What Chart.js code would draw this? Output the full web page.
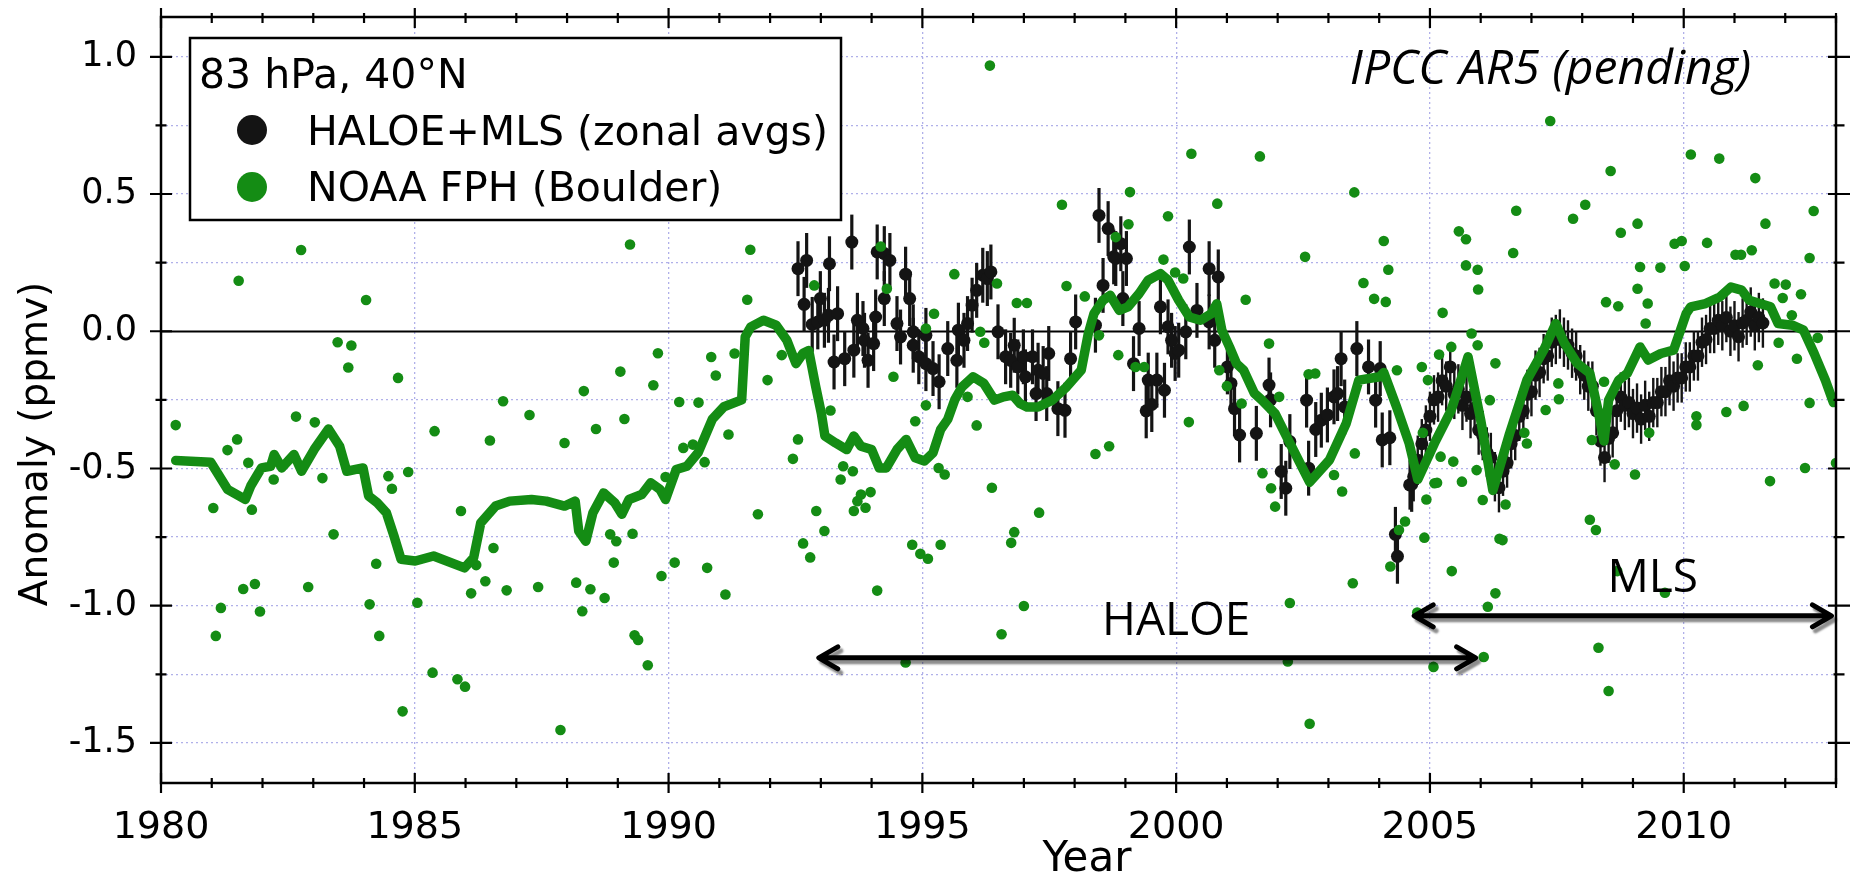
<!DOCTYPE html>
<html>
<head>
<meta charset="utf-8">
<script src="https://cdn.jsdelivr.net/npm/chart.js@4.4.1/dist/chart.umd.min.js"></script>
<style>
  html, body { margin: 0; padding: 0; background: #ffffff; }
  canvas { display: block; }
</style>
</head>
<body>
<canvas id="wv" width="1858" height="874"></canvas>
<script>
// ---- NOAA frost-point hygrometer soundings over Boulder (single profiles) ----
const fphYear = [
  1980.29,1981.03,1981.08,1981.18,1981.31,1981.50,1981.53,1981.62,1981.72,1981.79,1981.85,1981.95,
  1982.22,1982.66,1982.76,1982.90,1983.03,1983.18,1983.40,1983.48,1983.69,1983.75,1984.04,1984.11,
  1984.24,1984.30,1984.48,1984.55,1984.67,1984.76,1984.87,1985.05,1985.35,1985.39,1985.84,1985.91,
  1985.99,1986.11,1986.21,1986.39,1986.48,1986.55,1986.74,1986.81,1987.26,1987.43,1987.87,1987.95,
  1988.18,1988.30,1988.33,1988.46,1988.57,1988.74,1988.85,1988.92,1988.97,1989.05,1989.13,1989.24,
  1989.29,1989.33,1989.40,1989.59,1989.70,1989.79,1989.86,1989.94,1990.12,1990.21,1990.29,1990.48,
  1990.59,1990.71,1990.76,1990.84,1990.93,
  1991.12,1991.18,1991.30,1991.55,1991.61,1991.76,1991.95,1992.23,1992.45,1992.55,1992.65,1992.79,
  1992.87,1992.91,1993.07,1993.19,1993.39,1993.44,1993.63,1993.65,1993.72,1993.79,1993.88,1993.98,
  1994.11,1994.18,1994.30,1994.43,1994.67,1994.80,1994.86,1994.96,1995.07,1995.07,1995.11,1995.23,
  1995.32,1995.36,1995.44,1995.63,1995.89,1996.07,1996.14,1996.22,1996.33,1996.37,1996.47,1996.56,
  1996.75,1996.81,1996.86,1997.00,1997.06,1997.30,1997.75,1997.84,1998.20,1998.41,1998.48,1998.68,
  1998.81,1998.86,1999.06,1999.09,1999.20,1999.37,1999.75,1999.84,1999.98,2000.14,2000.25,2000.30,
  2000.81,2000.85,2001.00,2001.29,2001.37,2001.65,2001.70,2001.83,2001.87,2001.95,2002.03,2002.20,
  2002.24,2002.54,2002.61,2002.63,2002.74,2003.11,2003.27,2003.48,2003.51,2003.52,2003.69,2003.90,
  2004.09,2004.13,2004.18,2004.22,2004.35,2004.39,2004.51,2004.75,2004.84,2004.86,2004.89,2004.93,
  2004.96,2005.07,2005.09,2005.14,2005.18,2005.21,2005.25,2005.42,2005.43,2005.46,2005.57,2005.63,
  2005.71,2005.71,2005.82,2005.92,2005.94,2005.94,2005.95,2006.04,2006.06,2006.14,2006.18,2006.29,
  2006.29,2006.37,2006.43,2006.49,2006.64,2006.70,2006.86,2006.91,2007.28,2007.37,2007.53,2007.54,
  2007.82,2008.06,2008.15,2008.19,2008.27,2008.32,2008.43,2008.47,2008.52,2008.56,2008.64,2008.69,
  2008.71,2008.76,2009.04,2009.09,2009.09,2009.14,2009.25,2009.29,2009.32,2009.54,2009.63,2009.82,
  2009.96,2010.02,2010.14,2010.25,2010.25,2010.46,2010.70,2010.84,2011.02,2011.13,2011.18,2011.34,
  2011.41,2011.46,2011.61,2011.70,2011.79,2011.87,2011.95,2012.01,2012.13,2012.23,2012.31,2012.39,
  2012.48,2012.48,2012.56,2012.64,2013.00
];
const fphAnom = [
  -0.342,-0.644,-1.110,-1.008,-0.433,-0.394,0.184,-0.939,-0.479,-0.650,-0.921,-1.021,
  -0.540,-0.311,0.296,-0.932,-0.332,-0.535,-0.740,-0.040,-0.132,-0.052,0.114,-0.995,
  -0.847,-1.110,-0.528,-0.574,-0.170,-1.385,-0.513,-0.989,-1.244,-0.364,-1.268,-0.655,
  -1.295,-0.955,-0.852,-0.911,-0.398,-0.790,-0.255,-0.944,-0.305,-0.932,-1.453,-0.407,
  -0.916,-1.020,-0.218,-0.940,-0.356,-0.972,-0.740,-0.843,-0.765,-0.147,-0.320,0.316,
  -0.738,-1.108,-1.125,-1.217,-0.197,-0.080,-0.892,-0.531,-0.843,-0.258,-0.425,-0.413,
  -0.260,-0.477,-0.862,-0.094,-0.161,
  -0.959,-0.376,-0.081,0.115,0.297,-0.667,-0.178,-0.087,-0.465,-0.394,-0.773,-0.824,
  0.167,-0.655,-0.728,-0.289,-0.540,-0.492,-0.510,-0.655,-0.619,-0.595,-0.643,-0.586,
  -0.945,0.309,0.155,-0.166,-1.207,-0.778,-0.328,-0.811,0.010,-0.270,-0.829,0.064,
  -0.498,-0.778,-0.522,0.208,-0.239,-0.343,-0.002,-0.042,0.968,-0.570,0.174,-1.104,
  -0.771,-0.732,0.103,-1.001,0.103,-0.661,0.461,0.165,0.127,-0.447,-0.015,-0.419,
  0.343,-0.087,0.390,0.507,-0.130,-0.130,0.261,0.419,0.214,0.192,-0.331,0.647,
  0.465,-0.142,-0.200,-0.263,0.115,0.637,-0.517,-0.045,-0.572,-0.639,-0.239,-1.203,
  -0.990,0.271,-0.157,-1.430,-0.154,-0.524,-0.584,-0.918,0.506,-0.445,0.176,0.118,
  0.329,0.107,0.224,-0.857,-0.142,-0.724,-0.693,-1.025,-0.130,-0.370,-0.752,-0.613,
  -0.178,-1.223,-0.554,-0.552,-0.085,-0.457,0.067,-0.057,-0.874,-0.475,0.364,-0.548,
  0.335,0.240,-0.008,-0.506,0.224,-0.051,0.152,-0.615,-1.187,-1.004,-0.251,-0.955,
  -0.117,-0.756,-0.761,-0.631,0.285,0.439,-0.370,-0.409,-0.287,0.766,-0.190,-0.248,
  0.410,0.461,-0.687,-0.396,-0.724,-1.153,-0.184,0.106,-1.311,0.584,-0.485,-0.874,
  0.091,0.359,-0.522,0.392,0.155,0.234,0.028,0.101,-0.370,0.232,-0.953,0.319,
  0.329,0.238,0.644,-0.310,-0.342,0.322,0.629,-0.294,0.279,0.279,-0.272,0.295,
  0.558,-0.124,0.392,-0.546,0.174,-0.042,0.121,0.170,0.058,-0.100,0.135,-0.498,
  0.267,-0.261,0.438,-0.024,-0.480
];

// ---- smoothed NOAA FPH record ----
const fphFitYear = [
  1980.29,1980.98,1981.31,1981.66,1981.77,1981.98,1982.16,1982.23,1982.38,1982.62,1982.77,1983.02,
  1983.30,1983.52,1983.66,1983.98,1984.09,1984.26,1984.44,1984.59,1984.73,1985.01,1985.37,1985.98,
  1986.16,1986.30,1986.59,1986.87,1987.30,1987.59,1987.95,1988.16,1988.23,1988.37,1988.51,1988.72,
  1988.94,1989.08,1989.22,1989.47,1989.65,1989.83,1989.94,1990.15,1990.36,1990.58,1990.72,1990.86,
  1991.09,1991.44,1991.51,1991.62,1991.87,1992.12,1992.33,1992.51,1992.65,1992.76,1992.90,1993.01,
  1993.08,1993.29,1993.51,1993.65,1993.79,1994.00,1994.15,1994.29,1994.50,1994.68,1994.86,1995.04,
  1995.21,1995.36,1995.50,1995.64,1995.78,1996.00,1996.21,1996.42,1996.60,1996.78,1996.92,1997.06,
  1997.28,1997.56,1997.84,1998.13,1998.27,1998.38,1998.56,1998.70,1998.88,1999.05,1999.27,1999.45,
  1999.69,1999.84,2000.05,2000.26,2000.48,2000.69,2000.80,2000.90,2001.05,2001.19,2001.33,2001.54,
  2001.69,2001.95,2002.24,2002.63,2003.02,2003.35,2003.60,2004.01,2004.09,2004.34,2004.59,2004.76,
  2005.09,2005.42,2005.67,2005.75,2006.00,2006.24,2006.57,2006.91,2007.24,2007.48,2007.65,2007.90,
  2008.15,2008.31,2008.43,2008.52,2008.72,2008.89,2009.14,2009.30,2009.55,2009.80,2010.05,2010.14,
  2010.43,2010.71,2010.93,2011.14,2011.29,2011.50,2011.71,2011.86,2012.14,2012.36,2012.57,2012.79,
  2012.95
];
const fphFitAnom = [
  -0.471,-0.477,-0.576,-0.613,-0.563,-0.498,-0.492,-0.449,-0.498,-0.449,-0.510,-0.430,
  -0.356,-0.419,-0.510,-0.498,-0.600,-0.625,-0.661,-0.746,-0.831,-0.837,-0.819,-0.862,
  -0.825,-0.698,-0.637,-0.619,-0.613,-0.619,-0.637,-0.619,-0.728,-0.765,-0.661,-0.589,
  -0.625,-0.667,-0.613,-0.595,-0.552,-0.576,-0.613,-0.504,-0.492,-0.443,-0.382,-0.321,
  -0.275,-0.250,-0.020,0.016,0.040,0.022,-0.033,-0.118,-0.080,-0.070,-0.203,-0.300,
  -0.382,-0.407,-0.431,-0.382,-0.419,-0.431,-0.498,-0.498,-0.431,-0.394,-0.461,-0.473,
  -0.443,-0.358,-0.321,-0.249,-0.203,-0.166,-0.190,-0.251,-0.239,-0.233,-0.263,-0.276,
  -0.276,-0.251,-0.203,-0.142,-0.008,0.064,0.113,0.131,0.076,0.089,0.137,0.186,
  0.210,0.186,0.113,0.052,0.040,0.064,0.100,0.004,-0.057,-0.118,-0.142,-0.226,
  -0.251,-0.300,-0.408,-0.550,-0.469,-0.336,-0.178,-0.166,-0.150,-0.275,-0.408,-0.540,
  -0.408,-0.287,-0.142,-0.093,-0.324,-0.580,-0.372,-0.178,-0.069,0.028,-0.044,-0.117,
  -0.153,-0.287,-0.400,-0.251,-0.178,-0.153,-0.057,-0.105,-0.081,-0.069,0.065,0.089,
  0.101,0.125,0.161,0.150,0.113,0.101,0.089,0.028,0.022,0.004,-0.081,-0.178,
  -0.260
];

// ---- HALOE zonal averages, 40N ----
const haloeYear = [
  1992.55,1992.67,1992.72,1992.83,1992.94,1992.99,1993.07,1993.15,1993.17,1993.26,1993.33,1993.47,
  1993.61,1993.65,1993.72,1993.83,1993.86,1993.93,1994.04,1994.08,1994.11,1994.25,1994.25,1994.36,
  1994.50,1994.57,1994.67,1994.75,1994.82,1994.82,1994.93,1995.07,1995.07,1995.21,1995.33,1995.50,
  1995.68,1995.71,1995.82,1995.89,1995.98,1996.07,1996.19,1996.28,1996.35,1996.49,1996.64,1996.74,
  1996.81,1996.88,1996.99,1997.03,1997.17,1997.24,1997.28,1997.38,1997.45,1997.49,1997.67,1997.81,
  1997.92,1998.02,1998.41,1998.48,1998.56,1998.66,1998.77,1998.81,1998.91,1998.95,1999.02,1999.16,
  1999.27,1999.41,1999.45,1999.52,1999.62,1999.69,1999.77,1999.84,1999.91,1999.98,2000.05,2000.19,
  2000.26,2000.41,2000.65,2000.65,2000.76,2000.83,2001.01,2001.08,2001.15,2001.25,2001.58,2001.83,
  2001.86,2002.07,2002.16,2002.24,2002.57,2002.61,2002.75,2002.86,2002.98,2003.11,2003.18,2003.25,
  2003.32,2003.56,2003.79,2003.93,2004.02,2004.06,2004.21,2004.32,2004.36,2004.64
];
const haloeAnom = [
  0.228,0.098,0.258,0.025,0.034,0.119,0.040,0.058,0.246,-0.112,0.064,-0.100,
  0.325,-0.069,0.040,0.010,-0.033,-0.106,-0.045,0.052,0.289,0.283,0.119,0.258,
  0.028,-0.021,0.208,0.119,-0.002,-0.051,-0.093,-0.015,-0.118,-0.136,-0.184,-0.063,
  -0.106,0.004,-0.033,0.028,0.095,0.149,0.204,0.192,0.216,-0.002,-0.093,-0.106,
  -0.051,-0.130,-0.093,-0.166,-0.093,-0.227,-0.142,-0.154,-0.227,-0.081,-0.282,-0.288,
  -0.100,0.034,0.022,0.422,0.167,0.374,0.271,0.265,0.319,0.119,0.265,-0.118,
  0.010,-0.290,-0.178,-0.267,-0.178,0.089,-0.215,0.016,-0.033,-0.081,-0.069,-0.002,
  0.307,0.076,0.228,0.034,-0.033,0.198,-0.130,-0.190,-0.282,-0.378,-0.372,-0.196,
  -0.250,-0.511,-0.572,-0.402,-0.251,-0.499,-0.358,-0.324,-0.305,-0.239,-0.227,-0.100,
  -0.276,-0.063,-0.130,-0.251,-0.136,-0.396,-0.388,-0.740,-0.820,-0.558
];

// ---- MLS zonal averages, 40N ----
const mlsYear = [
  2004.60,2004.68,2004.76,2004.84,2004.92,2005.00,2005.08,2005.16,2005.24,2005.32,
  2005.40,2005.48,2005.56,2005.64,2005.72,2005.80,2005.88,2005.96,2006.04,2006.12,
  2006.20,2006.28,2006.36,2006.44,2006.52,2006.60,2006.68,2006.76,2006.84,2006.92,
  2007.00,2007.08,2007.16,2007.24,2007.32,2007.40,2007.48,2007.56,2007.64,2007.72,
  2007.80,2007.88,2007.96,2008.04,2008.12,2008.20,2008.28,2008.36,2008.44,2008.52,
  2008.60,2008.68,2008.76,2008.84,2008.92,2009.00,2009.08,2009.16,2009.24,2009.32,
  2009.40,2009.48,2009.56,2009.64,2009.72,2009.80,2009.88,2009.96,2010.04,2010.12,
  2010.20,2010.28,2010.36,2010.44,2010.52,2010.60,2010.68,2010.76,2010.84,2010.92,
  2011.00,2011.08,2011.16,2011.24,2011.32,2011.40,2011.48,2011.56
];
const mlsAnom = [
  -0.56,-0.53,-0.47,-0.41,-0.36,-0.31,-0.25,-0.24,-0.18,-0.20,
  -0.13,-0.23,-0.21,-0.27,-0.24,-0.30,-0.28,-0.36,-0.38,-0.44,
  -0.46,-0.53,-0.57,-0.51,-0.48,-0.41,-0.38,-0.31,-0.29,-0.23,
  -0.22,-0.16,-0.15,-0.10,-0.09,-0.04,-0.03,-0.01,-0.04,-0.05,
  -0.08,-0.09,-0.14,-0.16,-0.20,-0.20,-0.29,-0.40,-0.46,-0.39,
  -0.37,-0.29,-0.24,-0.27,-0.26,-0.30,-0.28,-0.32,-0.27,-0.31,
  -0.26,-0.26,-0.22,-0.22,-0.18,-0.20,-0.17,-0.17,-0.13,-0.13,
  -0.09,-0.09,-0.04,-0.03,0.01,0.01,0.04,0.02,0.05,0.00,
  0.02,-0.02,0.03,0.04,0.07,0.02,0.05,0.03
];

// half-width of the error bar on each zonal average (ppmv)
const haloeErr = 0.10;
const mlsErr = 0.09;

// axis range, ticks and labels
const yearRange = [1980, 2013];
const anomRange = [-1.646, 1.145];
const yearLabels = [1980, 1985, 1990, 1995, 2000, 2005, 2010];
const anomLabels = [-1.5, -1.0, -0.5, 0.0, 0.5, 1.0];

// instrument records shown as arrows beneath the data
const haloeSpan = [1992.94, 2005.92];
const mlsSpan = [2004.67, 2012.93];

const GREEN = '#148c14';
const BLACK = '#141414';
const GRID = 'rgba(150,150,225,0.75)';
const SANS = '"DejaVu Sans", Verdana, sans-serif';
const CAPTION = '"Open Sans", "Noto Sans", sans-serif';

const pairs = (xs, ys) => xs.map((x, i) => ({ x: x, y: ys[i] }));
const near = (v, list) => list.some(t => Math.abs(t - v) < 1e-6);

// Error bars, zero line, frame, tick marks, legend and notes
const decorations = {
  id: 'decorations',
  beforeDatasetsDraw(chart) {
    const { ctx, chartArea: a, scales: { x, y } } = chart;
    ctx.save();
    // zero line
    ctx.strokeStyle = '#000';
    ctx.lineWidth = 2;
    const y0 = Math.round(y.getPixelForValue(0)) + 0.5;
    ctx.beginPath(); ctx.moveTo(a.left, y0); ctx.lineTo(a.right, y0); ctx.stroke();
    // vertical error bars behind the dots
    ctx.beginPath(); ctx.rect(a.left, a.top, a.right - a.left, a.bottom - a.top); ctx.clip();
    ctx.strokeStyle = BLACK;
    chart.data.datasets.forEach(ds => {
      if (ds.errorBar == null) return;
      ctx.lineWidth = ds.errorWidth;
      ds.data.forEach(p => {
        const px = x.getPixelForValue(p.x);
        ctx.beginPath();
        ctx.moveTo(px, y.getPixelForValue(p.y - ds.errorBar));
        ctx.lineTo(px, y.getPixelForValue(p.y + ds.errorBar));
        ctx.stroke();
      });
    });
    ctx.restore();
  },
  afterDraw(chart) {
    const { ctx, chartArea: a, scales: { x, y } } = chart;
    ctx.save();

    // plot frame
    ctx.strokeStyle = '#000';
    ctx.lineWidth = 2.5;
    ctx.strokeRect(a.left, a.top, a.right - a.left, a.bottom - a.top);

    // tick marks on all four sides, crossing the frame
    ctx.lineWidth = 2.2;
    x.ticks.forEach(t => {
      const px = x.getPixelForValue(t.value);
      const major = near(t.value, yearLabels);
      const h = major ? 10 : 5;
      ctx.beginPath();
      ctx.moveTo(px, a.bottom - h); ctx.lineTo(px, a.bottom + h);
      ctx.moveTo(px, a.top - h + 1); ctx.lineTo(px, a.top + h + 1);
      ctx.stroke();
    });
    y.ticks.forEach(t => {
      const py = y.getPixelForValue(t.value);
      const major = near(t.value, anomLabels);
      const h = major ? 11 : 5.5;
      ctx.beginPath();
      ctx.moveTo(a.left - h, py); ctx.lineTo(a.left + h, py);
      ctx.moveTo(a.right - h + 3, py); ctx.lineTo(a.right + h + 3, py);
      ctx.stroke();
    });

    // axis titles
    ctx.fillStyle = '#000';
    ctx.textAlign = 'center';
    ctx.textBaseline = 'alphabetic';
    ctx.font = '42px ' + SANS;
    ctx.fillText('Year', 1087, 871);
    ctx.font = '39px ' + SANS;
    ctx.save();
    ctx.translate(47, 444);
    ctx.rotate(-Math.PI / 2);
    ctx.fillText('Anomaly (ppmv)', 0, 0);
    ctx.restore();

    // legend box
    const L = { left: 190, top: 38, right: 841, bottom: 220 };
    ctx.fillStyle = '#fff';
    ctx.fillRect(L.left, L.top, L.right - L.left, L.bottom - L.top);
    ctx.strokeStyle = '#000';
    ctx.lineWidth = 2.5;
    ctx.strokeRect(L.left, L.top, L.right - L.left, L.bottom - L.top);
    ctx.fillStyle = '#000';
    ctx.font = '41px ' + SANS;
    ctx.textAlign = 'left';
    ctx.fillText('83 hPa, 40\u00B0N', 199, 88);
    ctx.fillStyle = BLACK;
    ctx.beginPath(); ctx.arc(252, 130, 15, 0, Math.PI * 2); ctx.fill();
    ctx.fillStyle = GREEN;
    ctx.beginPath(); ctx.arc(252, 187, 15, 0, Math.PI * 2); ctx.fill();
    ctx.fillStyle = '#000';
    ctx.fillText('HALOE+MLS (zonal avgs)', 307, 145);
    ctx.fillText('NOAA FPH (Boulder)', 307, 201);

    // report note
    ctx.font = 'italic 48px ' + CAPTION;
    ctx.textAlign = 'right';
    ctx.fillText('IPCC AR5 (pending)', x.getPixelForValue(2011.33), y.getPixelForValue(0.902));

    // instrument periods
    const arrow = (x1, x2, v) => {
      const p1 = x.getPixelForValue(x1), p2 = x.getPixelForValue(x2), py = y.getPixelForValue(v);
      ctx.save();
      ctx.shadowColor = 'rgba(0,0,0,0.45)';
      ctx.shadowOffsetX = 3;
      ctx.shadowOffsetY = 4;
      ctx.shadowBlur = 2;
      ctx.strokeStyle = '#000';
      ctx.lineWidth = 5;
      ctx.lineCap = 'round';
      ctx.lineJoin = 'round';
      ctx.beginPath();
      ctx.moveTo(p1 + 2, py); ctx.lineTo(p2 - 2, py);
      ctx.moveTo(p1 + 20, py - 11); ctx.lineTo(p1 + 1, py); ctx.lineTo(p1 + 20, py + 11);
      ctx.moveTo(p2 - 20, py - 11); ctx.lineTo(p2 - 1, py); ctx.lineTo(p2 - 20, py + 11);
      ctx.stroke();
      ctx.restore();
    };
    arrow(haloeSpan[0], haloeSpan[1], -1.19);
    arrow(mlsSpan[0], mlsSpan[1], -1.037);
    ctx.font = '46px ' + CAPTION;
    ctx.textAlign = 'center';
    ctx.fillStyle = '#000';
    ctx.fillText('HALOE', x.getPixelForValue(2000.0), y.getPixelForValue(-1.106));
    ctx.fillText('MLS', x.getPixelForValue(2009.39), y.getPixelForValue(-0.95));

    ctx.restore();
  }
};

// keep the plot box exactly on the requested range
const pinRange = (range) => function (s) { s.min = range[0]; s.max = range[1]; };

new Chart(document.getElementById('wv'), {
  type: 'scatter',
  data: {
    datasets: [
      {
        label: 'NOAA FPH smoothed',
        data: pairs(fphFitYear, fphFitAnom),
        showLine: true,
        borderColor: GREEN,
        borderWidth: 9.5,
        borderJoinStyle: 'round',
        borderCapStyle: 'round',
        pointRadius: 0,
        tension: 0
      },
      {
        label: 'NOAA FPH (Boulder)',
        data: pairs(fphYear, fphAnom),
        pointRadius: 5.3,
        backgroundColor: GREEN,
        borderWidth: 0
      },
      {
        label: 'MLS',
        data: pairs(mlsYear, mlsAnom),
        pointRadius: 6.5,
        backgroundColor: BLACK,
        borderWidth: 0,
        errorBar: mlsErr,
        errorWidth: 2.4
      },
      {
        label: 'HALOE',
        data: pairs(haloeYear, haloeAnom),
        pointRadius: 6.5,
        backgroundColor: BLACK,
        borderWidth: 0,
        errorBar: haloeErr,
        errorWidth: 3.2
      }
    ]
  },
  options: {
    responsive: false,
    animation: false,
    devicePixelRatio: 1,
    events: [],
    layout: { padding: { top: 17, right: 22, left: 0, bottom: 0 } },
    plugins: { legend: { display: false }, tooltip: { enabled: false } },
    scales: {
      x: {
        type: 'linear',
        min: yearRange[0],
        max: yearRange[1],
        afterBuildTicks: pinRange(yearRange),
        afterFit(s) { s.height = 91; s.paddingLeft = 0; s.paddingRight = 0; },
        border: { display: false, dash: [2, 3] },
        grid: {
          drawTicks: false,
          lineWidth: 1.3,
          color: c => (c.tick && near(c.tick.value, yearLabels) && c.tick.value !== 1980) ? GRID : 'rgba(0,0,0,0)'
        },
        ticks: {
          stepSize: 1,
          autoSkip: false,
          maxRotation: 0,
          padding: 22,
          color: '#000',
          font: { family: SANS, size: 38 },
          callback: v => near(v, yearLabels) ? String(v) : ''
        }
      },
      y: {
        type: 'linear',
        min: anomRange[0],
        max: anomRange[1],
        afterBuildTicks: pinRange(anomRange),
        afterFit(s) { s.width = 161; s.paddingTop = 0; s.paddingBottom = 0; },
        border: { display: false, dash: [2, 3] },
        grid: {
          drawTicks: false,
          lineWidth: 1.3,
          color: c => (c.tick && Math.abs(c.tick.value) > 1e-6) ? GRID : 'rgba(0,0,0,0)'
        },
        ticks: {
          stepSize: 0.25,
          includeBounds: false,
          padding: 24,
          color: '#000',
          font: { family: SANS, size: 35 },
          callback: v => near(v, anomLabels) ? v.toFixed(1) : ''
        }
      }
    }
  },
  plugins: [decorations]
});
</script>
</body>
</html>
